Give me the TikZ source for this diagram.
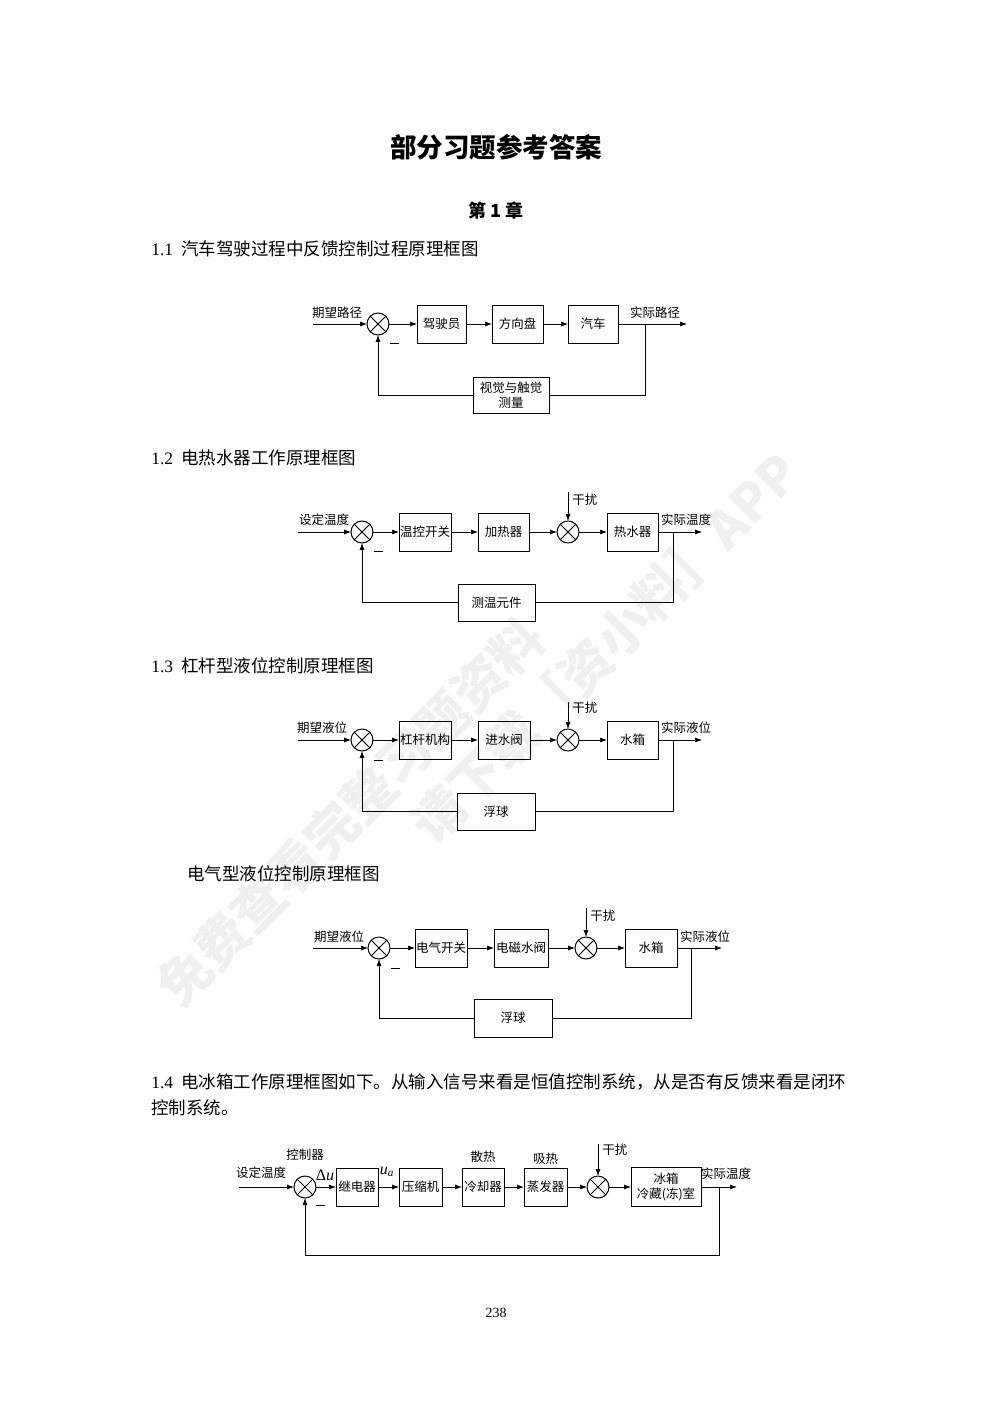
\documentclass[tikz,border=0pt]{standalone}
\usepackage{fontspec}
\setmainfont{Liberation Serif}
\newfontfamily\cjk{Noto Sans CJK SC}
\usetikzlibrary{positioning,arrows.meta}

\begin{document}
\begin{tikzpicture}[x=1pt, y=-1pt,
    line width=0.7pt,
    blk/.style={rectangle, draw, outer sep=0pt, minimum height=38pt, inner sep=1pt, align=center, font=\cjk\fontsize{12.5}{14}\selectfont},
    sum/.style={circle, draw, outer sep=0pt, line width=1pt, minimum size=22pt, inner sep=0pt,
        path picture={\draw[line width=1pt] (path picture bounding box.north west) -- (path picture bounding box.south east)
            (path picture bounding box.north east) -- (path picture bounding box.south west);}},
    lbl/.style={inner sep=0pt, font=\cjk\fontsize{12.5}{14}\selectfont},
    neg/.style={inner sep=0pt},
    head/.style={anchor=west, inner sep=0pt, font=\fontsize{17.5}{20}\selectfont},
    wmark/.style={inner sep=0pt, rotate=45, text=black!6, font=\cjk\bfseries\fontsize{52}{56}\selectfont},
    arr/.style={-{Latex[length=7pt,width=5pt]}}
]
    \useasboundingbox (0,0) rectangle (993,1404);

    % watermark
    \node[wmark] (wm1) at (350,812) {免费查看完整习题资料};
    \node[wmark] (wm2) at (605,648) {请下载［资小料］APP};

    % Page title
    \node[inner sep=0pt, font=\cjk\bfseries\fontsize{26.5}{30}\selectfont] (title) at (496,147) {部分习题参考答案};
    \node[inner sep=0pt, font=\cjk\bfseries\fontsize{18}{20}\selectfont] (chap) at (496,211) {第 1 章};

    % 1.1
    \node[head] (h11) at (151,249) {1.1\hspace{8pt}{\cjk 汽车驾驶过程中反馈控制过程原理框图}};
    \node[sum] (a1) at (378,324) {};
    \node[blk, minimum width=49pt, right=28pt of a1] (driver) {驾驶员};
    \node[blk, minimum width=51pt, right=26pt of driver] (wheel) {方向盘};
    \node[blk, minimum width=50pt, right=25pt of wheel] (car) {汽车};
    \node[blk, minimum width=76pt, minimum height=36pt, font=\cjk\fontsize{12.5}{15}\selectfont] (sense) at (511,395) {视觉与触觉\\测量};
    \coordinate (ain) at (313,324);
    \coordinate (aout) at (687,324);
    \coordinate (abr) at (645,324);
    \node[lbl] (ainl) at (337,313) {期望路径};
    \node[lbl] (aoutl) at (655,313) {实际路径};
    \node[neg] (aneg) at (394,343) {\rule{9pt}{1pt}};
    \draw[arr] (ain) -- (a1);
    \draw[arr] (a1) -- (driver);
    \draw[arr] (driver) -- (wheel);
    \draw[arr] (wheel) -- (car);
    \draw[arr] (car) -- (aout);
    \draw (abr) |- (sense.east);
    \draw[arr] (sense.west) -| (a1.south);

    % 1.2
    \node[head] (h12) at (151,458) {1.2\hspace{8pt}{\cjk 电热水器工作原理框图}};
    \node[sum] (b1) at (362,532) {};
    \node[blk, minimum width=52pt, right=26pt of b1] (tswitch) {温控开关};
    \node[blk, minimum width=51pt, right=27pt of tswitch] (heater) {加热器};
    \node[sum, right=28pt of heater] (b2) {};
    \node[blk, minimum width=51pt, right=28pt of b2] (boiler) {热水器};
    \node[blk, minimum width=77pt, minimum height=37pt] (tsense) at (496.5,602.5) {测温元件};
    \coordinate (bin) at (298,532);
    \coordinate (bout) at (702,532);
    \coordinate (bbr) at (673,532);
    \coordinate[above=29pt of b2] (bdist);
    \node[lbl] (binl) at (324,520) {设定温度};
    \node[lbl] (boutl) at (686,520) {实际温度};
    \node[lbl, right=4pt of bdist, yshift=-8pt] (bdistl) {干扰};
    \node[neg] (bneg) at (378,551) {\rule{9pt}{1pt}};
    \draw[arr] (bin) -- (b1);
    \draw[arr] (b1) -- (tswitch);
    \draw[arr] (tswitch) -- (heater);
    \draw[arr] (heater) -- (b2);
    \draw[arr] (bdist) -- (b2);
    \draw[arr] (b2) -- (boiler);
    \draw[arr] (boiler) -- (bout);
    \draw (bbr) |- (tsense.east);
    \draw[arr] (tsense.west) -| (b1.south);

    % 1.3
    \node[head] (h13) at (151,666) {1.3\hspace{8pt}{\cjk 杠杆型液位控制原理框图}};
    \node[sum] (c1) at (362,740) {};
    \node[blk, minimum width=52pt, right=26pt of c1] (lever) {杠杆机构};
    \node[blk, minimum width=52pt, right=27pt of lever] (valve) {进水阀};
    \node[sum, right=27pt of valve] (c2) {};
    \node[blk, minimum width=51pt, right=28pt of c2] (tank) {水箱};
    \node[blk, minimum width=78pt, minimum height=37pt] (float) at (496,811.5) {浮球};
    \coordinate (cin) at (298,740);
    \coordinate (cout) at (702,740);
    \coordinate (cbr) at (673,740);
    \coordinate[above=27pt of c2] (cdist);
    \node[lbl] (cinl) at (322,728) {期望液位};
    \node[lbl] (coutl) at (686,728) {实际液位};
    \node[lbl, right=4pt of cdist, yshift=-6pt] (cdistl) {干扰};
    \node[neg] (cneg) at (378,760) {\rule{9pt}{1pt}};
    \draw[arr] (cin) -- (c1);
    \draw[arr] (c1) -- (lever);
    \draw[arr] (lever) -- (valve);
    \draw[arr] (valve) -- (c2);
    \draw[arr] (cdist) -- (c2);
    \draw[arr] (c2) -- (tank);
    \draw[arr] (tank) -- (cout);
    \draw (cbr) |- (float.east);
    \draw[arr] (float.west) -| (c1.south);

    % electric type
    \node[anchor=west, inner sep=0pt, font=\cjk\fontsize{17.5}{20}\selectfont] (h13b) at (187,874) {电气型液位控制原理框图};
    \node[sum] (d1) at (379,948) {};
    \node[blk, minimum width=52pt, right=25pt of d1] (eswitch) {电气开关};
    \node[blk, minimum width=54pt, right=27pt of eswitch] (svalve) {电磁水阀};
    \node[sum, right=27pt of svalve] (d2) {};
    \node[blk, minimum width=52pt, right=28pt of d2] (tank2) {水箱};
    \node[blk, minimum width=78pt] (float2) at (513,1018) {浮球};
    \coordinate (din) at (313,948);
    \coordinate (dout) at (722,948);
    \coordinate (dbr) at (691,948);
    \coordinate[above=29pt of d2] (ddist);
    \node[lbl] (dinl) at (339,937) {期望液位};
    \node[lbl] (doutl) at (705,937) {实际液位};
    \node[lbl, right=4pt of ddist, yshift=-8pt] (ddistl) {干扰};
    \node[neg] (dneg) at (395,968) {\rule{9pt}{1pt}};
    \draw[arr] (din) -- (d1);
    \draw[arr] (d1) -- (eswitch);
    \draw[arr] (eswitch) -- (svalve);
    \draw[arr] (svalve) -- (d2);
    \draw[arr] (ddist) -- (d2);
    \draw[arr] (d2) -- (tank2);
    \draw[arr] (tank2) -- (dout);
    \draw (dbr) |- (float2.east);
    \draw[arr] (float2.west) -| (d1.south);

    % 1.4
    \node[head] (h14) at (151,1082) {1.4\hspace{8pt}{\cjk 电冰箱工作原理框图如下。从输入信号来看是恒值控制系统，从是否有反馈来看是闭环}};
    \node[head] (h14b) at (151,1108) {{\cjk 控制系统。}};
    \node[sum] (e1) at (305,1187) {};
    \node[blk, minimum width=42pt, right=20pt of e1] (relay) {继电器};
    \node[blk, minimum width=43pt, right=21pt of relay] (comp) {压缩机};
    \node[blk, minimum width=42pt, right=20pt of comp] (cooler) {冷却器};
    \node[blk, minimum width=43pt, right=20pt of cooler] (evap) {蒸发器};
    \node[sum, right=20pt of evap] (e2) {};
    \node[blk, minimum width=70pt, minimum height=39pt, font=\cjk\fontsize{12.5}{15}\selectfont, right=22pt of e2] (fridge) {冰箱\\冷藏(冻)室};
    \coordinate (ein) at (239,1187);
    \coordinate (eout) at (737,1187);
    \coordinate (ebr) at (719,1187);
    \coordinate[above=32pt of e2] (edist);
    \coordinate (eback) at (719,1255);
    \node[lbl] (einl) at (261,1173) {设定温度};
    \node[lbl] (eoutl) at (726,1174) {实际温度};
    \node[lbl, right=4pt of edist, yshift=-6pt] (edistl) {干扰};
    \node[lbl, above=15pt of e1] (ctrl) {控制器};
    \node[lbl, above=5pt of cooler] (rad) {散热};
    \node[lbl, above=3pt of evap] (abs) {吸热};
    \node[lbl, font=\fontsize{16}{18}\selectfont] (du) at (325,1175) {Δ\textit{u}};
    \node[lbl, font=\fontsize{16}{18}\selectfont] (ua) at (387,1172) {\textit{u}\textsubscript{\textit{a}}};
    \node[neg] (eneg) at (320,1205) {\rule{9pt}{1pt}};
    \draw[arr] (ein) -- (e1);
    \draw[arr] (e1) -- (relay);
    \draw[arr] (relay) -- (comp);
    \draw[arr] (comp) -- (cooler);
    \draw[arr] (cooler) -- (evap);
    \draw[arr] (evap) -- (e2);
    \draw[arr] (edist) -- (e2);
    \draw[arr] (e2) -- (fridge);
    \draw[arr] (fridge) -- (eout);
    \draw[arr] (ebr) -- (eback) -| (e1.south);

    % page number
    \node[inner sep=0pt, font=\fontsize{14}{16}\selectfont] (page) at (496,1313) {238};
\end{tikzpicture}
\end{document}
